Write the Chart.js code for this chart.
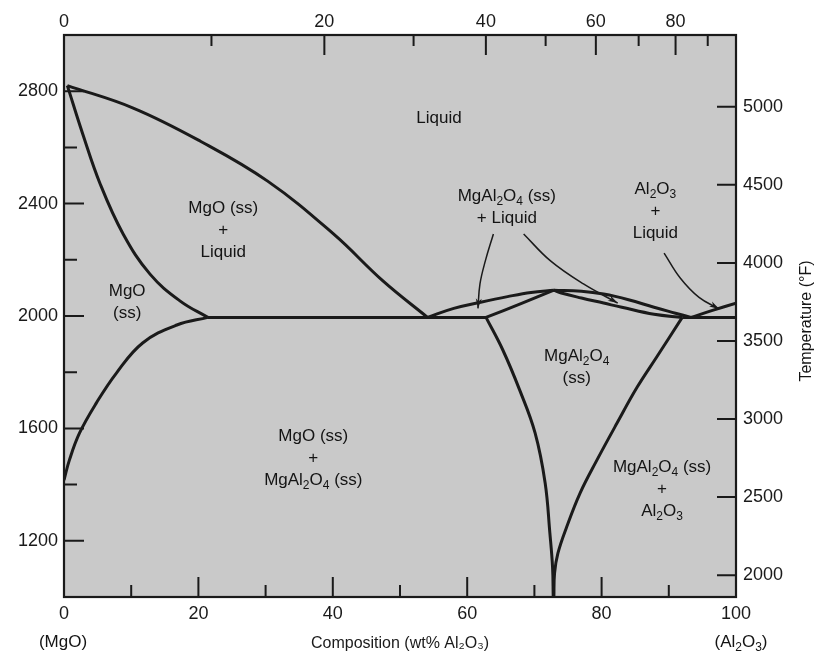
<!DOCTYPE html>
<html>
<head>
<meta charset="utf-8">
<title>MgO - Al2O3 phase diagram</title>
<script src="https://cdn.jsdelivr.net/npm/chart.js@4.4.0/dist/chart.umd.min.js"></script>
<style>
  html, body { margin: 0; padding: 0; background: #fff; }
</style>
</head>
<body>
<canvas id="phaseChart" width="815" height="664"></canvas>
<script>
// Phase boundaries: [wt% Al2O3, temperature in °C]
const mgoLiquidus = [[0.5, 2820], [10.3, 2740], [20.3, 2622], [30.3, 2480], [40.1, 2292], [47.5, 2124], [54.1, 1995]];
const mgoSolidus = [[0.5, 2820], [2.8, 2647], [5.4, 2469], [8.8, 2292], [12.8, 2149], [17.3, 2053], [21.4, 1995]];
const mgoSolvus = [[21.4, 1995], [16.8, 1968], [11.7, 1904], [7.8, 1797], [4.8, 1690], [2.3, 1583], [0.8, 1487], [0, 1416]];
const eutecticLeft = [[21.4, 1995], [62.8, 1995]];
const spinelLiquidusLeft = [[54.1, 1995], [58, 2027], [62, 2049], [66, 2069], [69.5, 2084], [72.9, 2092]];
const spinelLiquidusRight = [[72.9, 2092], [77, 2088], [80.3, 2078], [84, 2058], [87.8, 2031], [91, 2010], [93.3, 1995]];
const spinelSolidusLeft = [[62.8, 1995], [68.0, 2044], [72.9, 2092]];
const spinelSolidusRight = [[72.9, 2092], [74, 2082], [77, 2064], [80.3, 2046], [83, 2031], [87.8, 2006], [92.0, 1995]];
const eutecticRight = [[92.0, 1995], [100, 1995]];
const aluminaLiquidus = [[93.3, 1995], [96.5, 2020], [100, 2046]];
const spinelSolvusLeft = [[62.8, 1995], [65.3, 1879], [67.8, 1737], [70.1, 1584], [71.6, 1406], [72.3, 1228], [72.7, 1107], [72.8, 1000]];
const spinelSolvusRight = [[92.0, 1995], [88.2, 1854], [85.3, 1747], [82.3, 1619], [79.3, 1487], [76.8, 1370], [74.8, 1249], [73.5, 1156], [73.0, 1085], [72.9, 1000]];

// pointer arrows from the two-phase labels
const arrowSpinelLeft = [[63.9, 2292], [62.7, 2196], [61.9, 2114], [61.6, 2027]];
const arrowSpinelRight = [[68.4, 2292], [72.4, 2196], [77.3, 2114], [82.4, 2046]];
const arrowAlumina = [[89.3, 2224], [91.7, 2135], [94.5, 2066], [97.5, 2025]];

// axis ticks
const wtTicks = [0, 10, 20, 30, 40, 50, 60, 70, 80, 90, 100];
const molTicks = [0, 10, 20, 30, 40, 50, 60, 70, 80, 90];
const tempTicksC = [1200, 1400, 1600, 1800, 2000, 2200, 2400, 2600, 2800];
const tempTicksF = [2000, 2500, 3000, 3500, 4000, 4500, 5000];

// region labels ("_2" = subscript 2), anchored at first line
const regionLabels = [
  { lines: ['Liquid'], at: [55.8, 2704] },
  { lines: ['MgO (ss)', '+', 'Liquid'], at: [23.7, 2384] },
  { lines: ['MgO', '(ss)'], at: [9.4, 2089] },
  { lines: ['MgAl_2O_4 (ss)', '+ Liquid'], at: [65.9, 2427] },
  { lines: ['Al_2O_3', '+', 'Liquid'], at: [88.0, 2452] },
  { lines: ['MgO (ss)', '+', 'MgAl_2O_4 (ss)'], at: [37.1, 1573] },
  { lines: ['MgAl_2O_4', '(ss)'], at: [76.3, 1858] },
  { lines: ['MgAl_2O_4 (ss)', '+', 'Al_2O_3'], at: [89.0, 1460] }
];

const M_MGO = 40.30;
const M_AL2O3 = 101.96;
const FONT = '"Liberation Sans", Arial, Helvetica, sans-serif';
const INK = '#1a1a1a';

// mol% Al2O3 -> wt% Al2O3 for the top axis
function molToWt(m) {
  const a = m * M_AL2O3;
  return 100 * a / (a + (100 - m) * M_MGO);
}

function toPoints(arr) {
  return arr.map(p => ({ x: p[0], y: p[1] }));
}

function boundary(arr) {
  return {
    data: toPoints(arr),
    showLine: true,
    borderColor: INK,
    borderWidth: 3,
    pointRadius: 0,
    tension: 0.4,
    fill: false
  };
}

function arrowLine(arr) {
  return {
    data: toPoints(arr),
    showLine: true,
    borderColor: INK,
    borderWidth: 1.5,
    pointRadius: 0,
    tension: 0.4,
    fill: false
  };
}

// draw text with "_x" subscripts, centred on cx
function drawRich(ctx, text, cx, cy, size) {
  const parts = [];
  for (let i = 0; i < text.length; i++) {
    if (text[i] === '_') {
      parts.push({ t: text[i + 1], sub: true });
      i++;
    } else {
      const last = parts[parts.length - 1];
      if (last && !last.sub) last.t += text[i];
      else parts.push({ t: text[i], sub: false });
    }
  }
  const subSize = Math.round(size * 0.72);
  let w = 0;
  parts.forEach(p => {
    ctx.font = (p.sub ? subSize : size) + 'px ' + FONT;
    p.w = ctx.measureText(p.t).width;
    w += p.w;
  });
  let x = cx - w / 2;
  ctx.textAlign = 'left';
  ctx.textBaseline = 'middle';
  parts.forEach(p => {
    ctx.font = (p.sub ? subSize : size) + 'px ' + FONT;
    ctx.fillText(p.t, x, p.sub ? cy + size * 0.32 : cy);
    x += p.w;
  });
}

function arrowHead(ctx, chart, arr) {
  const xs = chart.scales.x, ys = chart.scales.y;
  const n = arr.length;
  const x1 = xs.getPixelForValue(arr[n - 2][0]), y1 = ys.getPixelForValue(arr[n - 2][1]);
  const x2 = xs.getPixelForValue(arr[n - 1][0]), y2 = ys.getPixelForValue(arr[n - 1][1]);
  const ang = Math.atan2(y2 - y1, x2 - x1);
  const len = 10, half = 3;
  ctx.save();
  ctx.translate(x2, y2);
  ctx.rotate(ang);
  ctx.beginPath();
  ctx.moveTo(0, 0);
  ctx.lineTo(-len, -half);
  ctx.lineTo(-len + 3, 0);
  ctx.lineTo(-len, half);
  ctx.closePath();
  ctx.fillStyle = INK;
  ctx.fill();
  ctx.restore();
}

const phaseDecor = {
  id: 'phaseDecor',
  beforeDraw(chart) {
    const { ctx, chartArea: a } = chart;
    ctx.save();
    ctx.fillStyle = '#ffffff';
    ctx.fillRect(0, 0, chart.width, chart.height);
    ctx.fillStyle = '#c9c9c9';
    ctx.fillRect(a.left, a.top, a.right - a.left, a.bottom - a.top);
    ctx.restore();
  },
  afterDraw(chart) {
    const { ctx, chartArea: a, scales } = chart;
    ctx.save();
    ctx.strokeStyle = INK;
    ctx.fillStyle = INK;

    // inward tick marks
    ctx.lineWidth = 2;
    ctx.beginPath();
    scales.x.ticks.forEach(t => {
      if (t.value <= 0 || t.value >= 100) return;
      const px = scales.x.getPixelForValue(t.value);
      const len = t.value % 20 === 0 ? 20 : 12;
      ctx.moveTo(px, a.bottom);
      ctx.lineTo(px, a.bottom - len);
    });
    scales.xTop.ticks.forEach(t => {
      if (t.mol <= 0) return;
      const px = scales.xTop.getPixelForValue(t.value);
      const len = t.mol % 20 === 0 ? 20 : 11;
      ctx.moveTo(px, a.top);
      ctx.lineTo(px, a.top + len);
    });
    scales.y.ticks.forEach(t => {
      const py = scales.y.getPixelForValue(t.value);
      const len = t.value % 400 === 0 ? 20 : 13;
      ctx.moveTo(a.left, py);
      ctx.lineTo(a.left + len, py);
    });
    scales.yRight.ticks.forEach(t => {
      const py = scales.yRight.getPixelForValue(t.value);
      ctx.moveTo(a.right, py);
      ctx.lineTo(a.right - 19, py);
    });
    ctx.stroke();

    // frame
    ctx.lineWidth = 2.2;
    ctx.strokeRect(a.left, a.top, a.right - a.left, a.bottom - a.top);

    // arrow heads
    [arrowSpinelLeft, arrowSpinelRight, arrowAlumina].forEach(arr => arrowHead(ctx, chart, arr));

    // region labels
    ctx.fillStyle = '#141414';
    regionLabels.forEach(lab => {
      const cx = scales.x.getPixelForValue(lab.at[0]);
      const cy = scales.y.getPixelForValue(lab.at[1]);
      lab.lines.forEach((line, i) => drawRich(ctx, line, cx, cy + i * 22, 17));
    });

    // end-member names under the bottom axis
    drawRich(ctx, '(MgO)', scales.x.getPixelForValue(0) - 1, a.bottom + 45, 17);
    drawRich(ctx, '(Al_2O_3)', scales.x.getPixelForValue(100) + 5, a.bottom + 45, 17);

    // right axis title, reading upwards
    ctx.save();
    ctx.translate(chart.width - 8, (a.top + a.bottom) / 2 + 5);
    ctx.rotate(-Math.PI / 2);
    ctx.font = '16px ' + FONT;
    ctx.textAlign = 'center';
    ctx.textBaseline = 'middle';
    ctx.fillText('Temperature (°F)', 0, 0);
    ctx.restore();

    ctx.restore();
  }
};

const tickFont = { family: FONT, size: 18 };
const noGrid = { display: false, drawTicks: false };

const datasets = [
  mgoLiquidus, mgoSolidus, mgoSolvus, eutecticLeft,
  spinelLiquidusLeft, spinelLiquidusRight, spinelSolidusLeft, spinelSolidusRight,
  eutecticRight, aluminaLiquidus, spinelSolvusLeft, spinelSolvusRight
].map(boundary).concat([arrowSpinelLeft, arrowSpinelRight, arrowAlumina].map(arrowLine));

new Chart(document.getElementById('phaseChart'), {
  type: 'scatter',
  data: { datasets: datasets },
  options: {
    responsive: false,
    animation: false,
    layout: { padding: 0 },
    plugins: { legend: { display: false }, tooltip: { enabled: false } },
    scales: {
      x: {
        type: 'linear', position: 'bottom', min: 0, max: 100,
        afterBuildTicks: s => { s.ticks = wtTicks.map(v => ({ value: v })); },
        afterFit: s => { s.height = 67; },
        grid: noGrid, border: { display: false },
        ticks: {
          font: tickFont, color: INK, padding: 6, autoSkip: false, maxRotation: 0,
          callback: v => (v % 20 === 0 ? String(v) : '')
        },
        title: {
          display: true, text: 'Composition (wt% Al₂O₃)', color: INK,
          font: { family: FONT, size: 16 }, padding: { top: 0, bottom: 11 }
        }
      },
      xTop: {
        type: 'linear', position: 'top', min: 0, max: 100,
        afterBuildTicks: s => { s.ticks = molTicks.map(m => ({ value: molToWt(m), mol: m })); },
        afterFit: s => { s.height = 35; },
        grid: noGrid, border: { display: false },
        ticks: {
          font: tickFont, color: INK, padding: 2, autoSkip: false, maxRotation: 0,
          callback: (v, i, ticks) => (ticks[i].mol % 20 === 0 ? String(ticks[i].mol) : '')
        }
      },
      y: {
        type: 'linear', position: 'left', min: 1000, max: 3000,
        afterBuildTicks: s => { s.ticks = tempTicksC.map(v => ({ value: v })); },
        afterFit: s => { s.width = 64; },
        grid: noGrid, border: { display: false },
        ticks: {
          font: tickFont, color: INK, padding: 6, autoSkip: false,
          callback: v => (v % 400 === 0 ? String(v) : '')
        }
      },
      yRight: {
        type: 'linear', position: 'right', min: 1860, max: 5460,
        afterBuildTicks: s => { s.ticks = tempTicksF.map(v => ({ value: v })); },
        afterFit: s => { s.width = 79; },
        grid: noGrid, border: { display: false },
        ticks: {
          font: tickFont, color: INK, padding: 7, autoSkip: false,
          callback: v => String(v)
        }
      }
    }
  },
  plugins: [phaseDecor]
});
</script>
</body>
</html>
